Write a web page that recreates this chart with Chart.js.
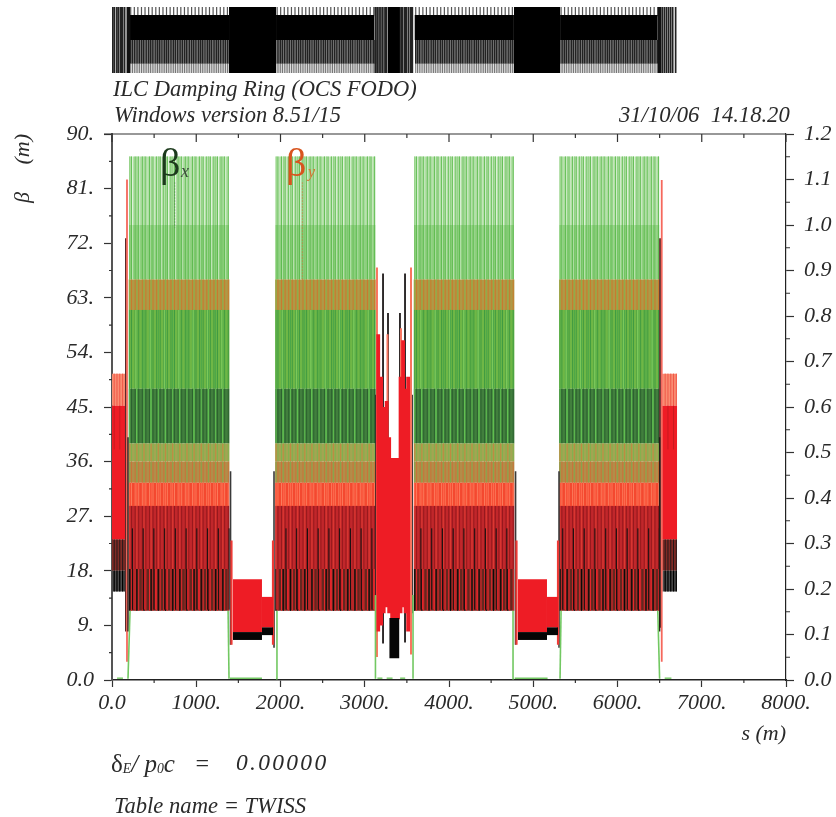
<!DOCTYPE html>
<html><head><meta charset="utf-8">
<script src="https://cdn.jsdelivr.net/npm/chart.js@4"></script>
<style>
html,body{margin:0;padding:0;background:#fff;width:836px;height:817px;overflow:hidden}
#syn,#main{position:absolute;left:0;filter:blur(.45px)}
#syn{top:0;width:836px;height:80px}
#main{top:0;width:836px;height:817px}
.t{position:absolute;font-family:"Liberation Serif",serif;font-style:italic;color:#2a2a2a;white-space:pre;line-height:1;filter:blur(.3px)}
.u{font-style:normal}
sub{font-size:55%;vertical-align:baseline;position:relative;top:.1em}
</style></head><body>
<canvas id="main" width="836" height="817"></canvas>
<canvas id="syn" width="836" height="80"></canvas>
<div class="t" style="left:113px;top:78px;font-size:22.5px">ILC Damping Ring (OCS FODO)</div>
<div class="t" style="left:114px;top:104px;font-size:22.5px">Windows version 8.51/15</div>
<div class="t" style="left:619px;top:104px;font-size:22.6px">31/10/06  14.18.20</div>
<div class="t u" style="left:160px;top:143px;font-size:40px;color:#1c3a1c;font-style:normal">β</div>
<div class="t" style="left:181px;top:162px;font-size:18px;color:#3a4a3a">x</div>
<div class="t u" style="left:286px;top:143px;font-size:40px;color:#d8541e;font-style:normal">β</div>
<div class="t" style="left:308px;top:164px;font-size:16px;color:#d8702e">y</div>
<div class="t" style="left:111px;top:751px;font-size:25px"><span class="u">δ</span><sub>E</sub>/ p<sub>0</sub>c</div>
<div class="t" style="left:194px;top:751px;font-size:24px">=</div>
<div class="t" style="left:236px;top:751px;font-size:23.5px;letter-spacing:2.3px">0.00000</div>
<div class="t" style="left:114px;top:795px;font-size:22.6px">Table name = TWISS</div>
<script>
// ---------- data ----------
const xLabels = ["0.0","1000.","2000.","3000.","4000.","5000.","6000.","7000.","8000."];
const yLabels = ["0.0","9.","18.","27.","36.","45.","54.","63.","72.","81.","90."];
const y2Labels = ["0.0","0.1","0.2","0.3","0.4","0.5","0.6","0.7","0.8","0.9","1.0","1.1","1.2"];

const arc1S = [222,265,307,350,392,435,477,520,562,605,647,690,732,775,817,860,902,945,987,1030,1072,1115,1157,1200,1242,1285,1327,1370];
const arc2S = [1960,2002,2045,2087,2130,2172,2215,2257,2300,2342,2385,2427,2470,2512,2555,2597,2640,2682,2725,2767,2810,2852,2895,2937,2980,3022,3065,3107];
const arc3S = [3605,3647,3690,3732,3775,3817,3860,3902,3945,3987,4030,4072,4115,4157,4200,4242,4285,4327,4370,4412,4455,4497,4540,4582,4625,4667,4710,4752];
const arc4S = [5330,5372,5415,5457,5500,5542,5585,5627,5670,5712,5755,5797,5840,5882,5925,5967,6010,6052,6095,6137,6180,6222,6265,6307,6350,6392,6435,6477];

// arc envelope bands, top to bottom
const bandHi = [86.3,75,66,61,48,39,36,32.5,28.7,18.3];
const bandLo = [75,66,61,48,39,36,32.5,28.7,18.3,11.4];

// straight sections at both ends of the line
const endS = [12,45,78,112,145,6552,6585,6618,6651,6684];
const endSalmonHi = 50.5, endSalmonLo = 45.2, endRedLo = 23.2, endDarkLo = 18, endBlackLo = 14.6;

// central chicane section: s, top, bottom
const midRedS  = [3160,3195,3225,3260,3290,3325,3360,3395,3425,3455,3485,3515];
const midRedHi = [57,50,45,46,40,36.6,36.6,36.6,50,56,48,50];
const midRedLo = [8,9,11,12,11,10,10,10,11,12,11,8];
const midSalS  = [3145,3270,3430,3549];
const midSalHi = [68,57,58,68];
const midSalLo = [3.8,14,12,4.2];
const midBlkS  = [3135,3217,3276,3418,3478,3560];
const midBlkHi = [47,67,60.5,60.5,67,47];
const midBlkLo = [11,6,16,16,6.2,11];
const midCoreS = [3312,3340,3368,3390];
const midCoreHi = [10.2,10.2,10.2,10.2];
const midCoreLo = [3.6,3.6,3.6,3.6];

// wiggler blocks
const wigS0 = [1436,1780,4819,5163];
const wigS1 = [1780,1911,5163,5294];
const wigRedHi = [16.6,13.7,16.6,13.7];
const wigRedLo = [7.9,8.7,7.9,8.7];
const wigBlkLo = [6.6,7.4,6.6,7.4];
const wigEdgeS = [1407,1923,4790,5306];
const wigEdgeBlkHi = [34.4,34.4,34.4,34.4];
const wigEdgeBlkLo = [5.8,5.3,5.8,5.3];
const wigEdgeRedS = [1418,1911,4801,5294];
const wigEdgeRedHi = [23,23,23,23];

// single spikes beside the arcs
const spikeRedS = [178,6525], spikeRedHi = [82.5,82.4], spikeRedLo = [3,3];
const spikeBlkS = [165,6505], spikeBlkHi = [72.8,72.8], spikeBlkLo = [8,8.6];

// dispersion feet rising from the axis
const greenEdgeS0 = [190,1389,1947,3127,3573,4771,5318,6500];
const greenEdgeS1 = [214,1378,1958,3127,3573,4760,5330,6478];
const greenEdgeHi = [11.4,11.4,11.4,14,14,11.4,11.4,11.4];
const groundS0 = [60,1400,3150,3260,3420,4780,6560];
const groundS1 = [130,1780,3210,3330,3480,5170,6640];

// leader lines of the curve labels
const leadXS = [745], leadXY = [82,74.5];
const leadYS = [2260], leadYY = [82,66];

// element bars of the layout strip
const synSolidS0 = [1389,3276,4771];
const synSolidS1 = [1947,3418,5318];
const synBarS0 = [214,1947,3590,5318];
const synBarS1 = [1389,3110,4771,6478];
const synCorner = [[170,214],[6478,6520]];
const synFlankS = [8,30,58,80,105,125,150,3125,3147,3170,3192,3215,3240,3260,3430,3450,3475,3495,3520,3545,3565,6488,6530,6555,6580,6605,6630,6655,6690];

// ---------- helpers ----------
function comb(xs, lo, hi, dx=0){
  const out=[];
  xs.forEach((s,i)=>{
    const l=Array.isArray(lo)?lo[i]:lo, h=Array.isArray(hi)?hi[i]:hi;
    out.push({x:s+dx,y:l},{x:s+dx,y:h},{x:s+dx,y:null});
  });
  return out;
}
const lineDs=(data,color,width,extra={})=>Object.assign({type:'line',data,borderColor:color,borderWidth:width,pointRadius:0,fill:false,tension:0,spanGaps:false,xAxisID:'x',yAxisID:'y'},extra);
const rectDs=(s0,s1,lo,hi,color)=>({type:'line',data:[{x:s0,y:hi},{x:s1,y:hi}],borderWidth:0,borderColor:color,backgroundColor:color,pointRadius:0,fill:{value:lo},tension:0,xAxisID:'x',yAxisID:'y'});
const every=(a,n,k=0)=>a.filter((_,i)=>i%n===k);

const arcS=[...arc1S,...arc2S,...arc3S,...arc4S];

// styles of the bands: wide stroke, stripe, stripe 2
const bandWide  = ['#b2dfa6','#8ed07e','#ae9a46','#6fb746','#417f3d','#a3a552','#b18e49','#f4482f','#c1272b','#64271f'];
const bandWidth = [3.0,3.2,4,4,4,4,4,4,4,4];
const bandStr1  = ['#66c058','#5fbb51','#c97a2e','#3f9b42','#2c6230','#7fb24f','#c9733a','#fb7a5c','#96191d','#e8282c'];
const bandStr2  = ['#8fd180','#74c563','#8caf49','#4aa64a','#5fbf50','#bf8a40','#86a64c','#ff6a4e','#dd3a32','#0a0a0a'];

// ---------- main plot layers, painter's order ----------
const layers=[];
bandHi.forEach((h,i)=>{
  const l=bandLo[i];
  layers.push(lineDs(comb(arcS,l,h),bandWide[i],bandWidth[i]));
  layers.push(lineDs(comb(every(arcS,1),l,h,10),bandStr1[i],1));
  layers.push(lineDs(comb(every(arcS,2),l,h,-12),bandStr2[i],1));
});
// black teeth reaching up through the red bands
layers.push(lineDs(comb(every(arcS,3),11.6,25,20),'#111',1));
layers.push(lineDs(comb(every(arcS,3,1),11.6,18.3,-4),'#e8242a',1));
// fine green lines through upper bands
layers.push(lineDs(comb(every(arcS,4,1),48,61,18),'#7cc85a',1.4));
layers.push(lineDs(comb(every(arcS,4,2),39,48,-16),'#62c052',1));

// end sections
layers.push(lineDs(comb(endS,endSalmonLo,endSalmonHi),'#f98d72',3.6));
layers.push(lineDs(comb(endS,endSalmonLo,endSalmonHi,14),'#f05848',1));
layers.push(lineDs(comb(endS,endDarkLo,endRedLo),'#7f2a25',3.6));
layers.push(lineDs(comb(endS,endDarkLo,endRedLo,14),'#26191a',1));
layers.push(lineDs(comb(endS,endBlackLo,endDarkLo),'#4a4a4a',3.2));
layers.push(lineDs(comb(endS,endBlackLo,endDarkLo,14),'#000',1.2));
layers.push(lineDs(comb(endS,endRedLo,endSalmonLo),'#ee1c25',3.8));
layers.push(lineDs(comb(every(endS,2),38,endSalmonLo,14),'#c81a20',1));

// spikes
layers.push(lineDs(comb(spikeBlkS,spikeBlkLo,spikeBlkHi),'#5c2a2a',1.8));
layers.push(lineDs(comb(spikeRedS,spikeRedLo,spikeRedHi),'#f5685c',1.8));
layers.push(lineDs(comb([190,6500],8,40),'#2a1a18',1.4));

// wiggler
layers.push(lineDs(comb(wigEdgeS,wigEdgeBlkLo,wigEdgeBlkHi),'#3a3a3a',1.6));
layers.push(lineDs(comb(wigEdgeRedS,5.8,wigEdgeRedHi),'#ee3a36',2.2));
wigS0.forEach((s,i)=>{
  layers.push(rectDs(s,wigS1[i],wigBlkLo[i],wigRedLo[i],'#050505'));
  layers.push(rectDs(s,wigS1[i],wigRedLo[i],wigRedHi[i],'#ee1c25'));
});

// middle
layers.push(lineDs(comb(midBlkS,midBlkLo,midBlkHi),'#1e1a1a',1.8));
layers.push(lineDs(comb(midSalS,midSalLo,midSalHi),'#f9755f',2));
layers.push(lineDs(comb(midRedS,midRedLo,midRedHi),'#ee1c25',3.8));
layers.push(lineDs(comb(midCoreS,midCoreLo,midCoreHi),'#060606',3.2));

// dispersion feet and ground line
greenEdgeS0.forEach((s,i)=>{
  layers.push(lineDs([{x:s,y:0.2},{x:greenEdgeS1[i],y:greenEdgeHi[i]}],'#72c862',1.6));
});
groundS0.forEach((s,i)=>{
  layers.push(lineDs([{x:s,y:0.3},{x:groundS1[i],y:0.3}],'#72c862',1.4));
});

// leaders
layers.push(lineDs(leadXY.map(y=>({x:leadXS[0],y})),'#5a7a5a',1,{borderDash:[1,2]}));
layers.push(lineDs(leadYY.map(y=>({x:leadYS[0],y})),'#d8703a',1,{borderDash:[1,2]}));

// ---------- axes decoration: short minor ticks and top frame ----------
const frame={id:'frame',afterDraw(c){
  const g=c.ctx,a=c.chartArea,sx=c.scales.x,sy=c.scales.y,s2=c.scales.y1;
  g.save();g.strokeStyle='#333';g.lineWidth=1.2;
  g.beginPath();
  g.moveTo(a.left-8,a.top);g.lineTo(a.right,a.top);
  sx.ticks.forEach((t,i)=>{const p=sx.getPixelForValue(t.value);
    if(i%2){g.moveTo(p,a.bottom);g.lineTo(p,a.bottom+3);g.moveTo(p,a.top);g.lineTo(p,a.top+4);}
    else{g.moveTo(p,a.top);g.lineTo(p,a.top+8);}});
  sy.ticks.forEach((t,i)=>{if(i%2){const p=sy.getPixelForValue(t.value);g.moveTo(a.left-3,p);g.lineTo(a.left,p);}});
  s2.ticks.forEach((t,i)=>{if(i%2){const p=s2.getPixelForValue(t.value);g.moveTo(a.right,p);g.lineTo(a.right+4,p);}});
  g.stroke();g.restore();
}};
const tickFont={family:'"Liberation Serif",serif',style:'italic',size:22};
const major=ctx=>ctx.index%2?'rgba(0,0,0,0)':'#333';

new Chart(document.getElementById('main'),{
  data:{datasets:layers.slice().reverse()},
  plugins:[frame],
  options:{
    responsive:false,animation:false,parsing:true,normalized:true,
    layout:{padding:{left:0,right:0,top:134,bottom:70}},
    plugins:{legend:{display:false},tooltip:{enabled:false},title:{display:false}},
    scales:{
      x:{type:'linear',min:0,max:8000,
        afterFit(s){s.height=67;},
        border:{color:'#222',width:1.6},
        grid:{drawOnChartArea:false,tickLength:7,tickWidth:1.2,tickColor:major},
        title:{display:true,text:'s (m)',align:'end',color:'#2a2a2a',font:{family:'"Liberation Serif",serif',style:'italic',size:22},padding:{top:4,bottom:0}},
        ticks:{stepSize:500,autoSkip:false,maxRotation:0,color:'#2a2a2a',font:tickFont,padding:3,
          callback:(v,i)=>i%2?'':xLabels[i/2]}},
      y:{type:'linear',position:'left',min:0,max:90,
        afterFit(s){s.width=112;},
        border:{color:'#555',width:2},
        grid:{drawOnChartArea:false,tickLength:8,tickWidth:1.2,tickColor:major},
        title:{display:true,text:'β     (m)',align:'end',color:'#2a2a2a',font:{family:'"Liberation Serif",serif',style:'italic',size:22},padding:{top:10,bottom:0}},
        ticks:{stepSize:4.5,autoSkip:false,color:'#2a2a2a',font:tickFont,padding:10,
          callback:(v,i)=>i%2?'':yLabels[i/2]}},
      y1:{type:'linear',position:'right',min:0,max:1.2,
        afterFit(s){s.width=50;},
        border:{color:'#222',width:1.2},
        grid:{drawOnChartArea:false,tickLength:8,tickWidth:1.2,tickColor:major},
        ticks:{stepSize:0.05,autoSkip:false,color:'#2a2a2a',font:tickFont,padding:10,
          callback:(v,i)=>i%2?'':y2Labels[i/2]}}
    }
  }
});

// ---------- layout strip above the plot ----------
const syn=[];
const synComb=[...arcS,...arcS.map(s=>s+21)].sort((a,b)=>a-b);
syn.push(lineDs(comb(synComb,-1,-0.72),'#777',1.1));
syn.push(lineDs(comb(synComb,-0.72,0),'#222',1.5));
syn.push(lineDs(comb(every(synComb,2),0.72,1),'#555',1.2));
syn.push(lineDs(comb(synFlankS,-1,1),'#222',1.7));
synBarS0.forEach((s,i)=>syn.push(rectDs(s,synBarS1[i],0,0.76,'#000')));
synSolidS0.forEach((s,i)=>syn.push(rectDs(s,synSolidS1[i],-1,1,'#000')));
synCorner.forEach(c=>syn.push(rectDs(c[0],c[1],-1,1,'#111')));
new Chart(document.getElementById('syn'),{
  data:{datasets:syn.slice().reverse()},
  options:{
    responsive:false,animation:false,normalized:true,
    layout:{padding:{left:112,right:50,top:7,bottom:7}},
    plugins:{legend:{display:false},tooltip:{enabled:false}},
    scales:{x:{type:'linear',min:0,max:8000,display:false},y:{type:'linear',min:-1,max:1,display:false}}
  }
});
</script>
</body></html>
